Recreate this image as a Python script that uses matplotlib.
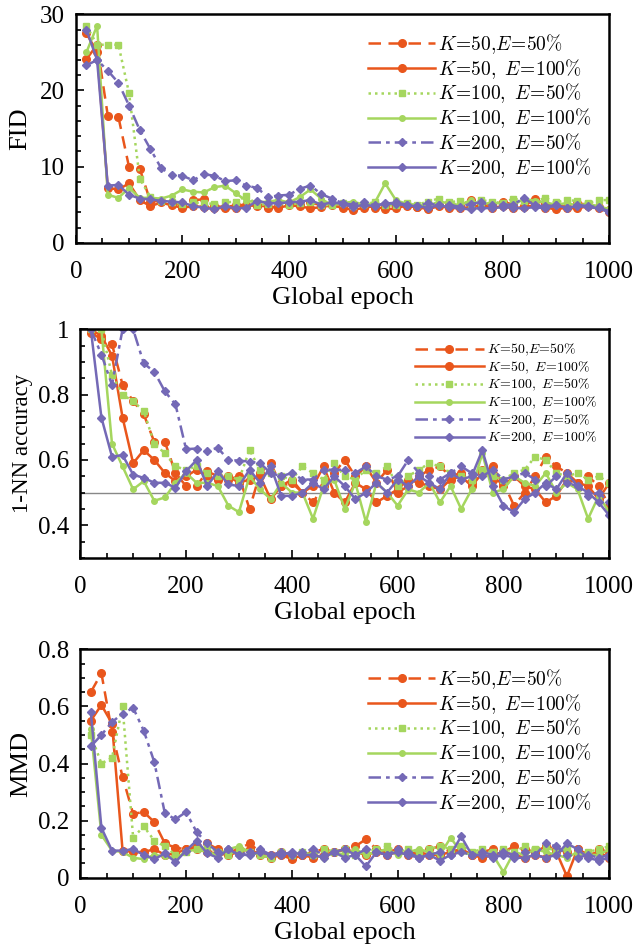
import matplotlib
matplotlib.use("Agg")
import matplotlib.pyplot as plt
from matplotlib.ticker import MultipleLocator, FuncFormatter

plt.rcParams['font.family'] = ['Liberation Serif', 'DejaVu Serif']
plt.rcParams['mathtext.fontset'] = 'cm'

# global epochs
epochs = [20, 40, 60, 80, 100, 120, 140, 160, 180, 200,
          220, 240, 260, 280, 300, 320, 340, 360, 380, 400,
          420, 440, 460, 480, 500, 520, 540, 560, 580, 600,
          620, 640, 660, 680, 700, 720, 740, 760, 780, 800,
          820, 840, 860, 880, 900, 920, 940, 960, 980, 1000]

labels = [r'$K\!=\!50{,}E\!=\!50\%$', r'$K\!=\!50,\ E\!=\!100\%$',
          r'$K\!=\!100,\ E\!=\!50\%$', r'$K\!=\!100,\ E\!=\!100\%$',
          r'$K\!=\!200,\ E\!=\!50\%$', r'$K\!=\!200,\ E\!=\!100\%$']

# ---- FID ----
fid_k50_e50 = [24.1, 26.0, 16.7, 16.5, 9.9, 9.7, 5.4, 5.5, 5.2, 5.0,
               5.6, 5.7, 4.8, 4.7, 4.9, 5.0, 4.8, 4.6, 4.8, 5.2,
               5.0, 5.3, 4.9, 5.1, 5.0, 4.7, 5.1, 4.6, 5.0, 4.9,
               4.8, 4.7, 4.5, 4.9, 5.2, 4.8, 5.6, 4.9, 5.1, 5.4,
               5.0, 4.8, 5.7, 5.1, 4.9, 4.7, 5.2, 5.0, 4.6, 4.1]
fid_k50_e100 = [27.5, 25.0, 7.2, 7.0, 7.8, 5.6, 4.8, 5.3, 4.9, 4.6,
                4.8, 4.7, 4.5, 4.6, 4.5, 4.8, 5.0, 4.7, 4.6, 4.9,
                4.8, 4.5, 4.7, 4.9, 4.6, 4.3, 4.6, 4.8, 4.4, 4.5,
                4.9, 4.7, 4.4, 4.8, 4.6, 4.5, 4.7, 4.9, 4.6, 4.8,
                4.5, 4.7, 4.9, 4.6, 4.4, 4.6, 4.5, 4.8, 4.7, 4.3]
fid_k100_e50 = [28.5, 26.0, 26.0, 26.0, 19.6, 8.4, 6.0, 5.5, 5.3, 5.1,
                5.3, 5.2, 5.1, 5.3, 5.4, 6.2, 4.9, 5.1, 5.3, 5.0,
                5.2, 5.4, 4.9, 5.0, 5.2, 4.8, 5.1, 5.3, 5.0, 4.9,
                5.2, 5.0, 5.4, 5.8, 5.3, 5.5, 5.1, 5.6, 5.4, 5.2,
                5.8, 5.5, 5.4, 5.9, 5.3, 5.6, 5.5, 5.2, 5.6, 5.6]
fid_k100_e100 = [25.0, 28.5, 6.3, 5.9, 7.2, 5.9, 5.9, 5.8, 6.2, 7.0,
                 6.7, 6.6, 7.3, 7.5, 6.5, 5.5, 5.3, 5.4, 5.6, 5.3,
                 6.0, 7.0, 5.8, 4.9, 5.2, 5.4, 5.0, 5.2, 7.8, 5.6,
                 5.1, 5.0, 4.8, 5.4, 5.2, 4.9, 5.6, 5.0, 5.3, 5.1,
                 4.9, 5.8, 5.5, 5.3, 5.0, 5.2, 4.9, 5.1, 4.8, 4.4]
fid_k200_e50 = [23.3, 24.0, 22.6, 21.0, 18.0, 14.8, 12.3, 9.8, 8.9, 8.8,
                8.2, 9.0, 8.8, 8.1, 8.2, 7.5, 7.2, 6.0, 6.2, 6.3,
                7.1, 7.5, 6.4, 5.8, 5.2, 5.0, 5.4, 4.9, 5.1, 5.3,
                5.0, 4.8, 5.2, 4.9, 5.0, 4.7, 5.1, 5.3, 4.9, 5.0,
                5.0, 5.9, 4.9, 4.8, 4.9, 4.6, 5.0, 4.8, 4.7, 4.1]
fid_k200_e100 = [28.0, 24.0, 7.5, 7.6, 6.3, 5.8, 5.7, 5.5, 5.4, 5.3,
                 4.8, 4.6, 4.4, 4.8, 4.5, 4.6, 5.5, 5.2, 5.2, 5.3,
                 5.4, 5.6, 5.0, 5.3, 5.1, 4.7, 5.0, 4.8, 5.2, 5.1,
                 4.9, 4.8, 4.6, 4.9, 4.7, 4.5, 4.4, 4.6, 4.5, 4.7,
                 4.6, 4.5, 4.7, 4.5, 4.9, 4.6, 4.8, 4.7, 4.5, 4.0]

# ---- 1-NN accuracy ----
nn_k50_e50 = [0.99, 0.97, 0.955, 0.83, 0.78, 0.74, 0.655, 0.655, 0.56, 0.52,
              0.52, 0.565, 0.55, 0.54, 0.55, 0.45, 0.56, 0.59, 0.52, 0.53,
              0.50, 0.47, 0.52, 0.56, 0.60, 0.55, 0.58, 0.53, 0.57, 0.50,
              0.52, 0.55, 0.57, 0.58, 0.55, 0.56, 0.53, 0.57, 0.54, 0.53,
              0.46, 0.50, 0.55, 0.61, 0.58, 0.56, 0.53, 0.55, 0.52, 0.46]
nn_k50_e100 = [1.0, 0.98, 0.92, 0.73, 0.59, 0.63, 0.60, 0.56, 0.535, 0.55,
               0.57, 0.55, 0.54, 0.55, 0.53, 0.54, 0.55, 0.48, 0.52, 0.54,
               0.50, 0.52, 0.58, 0.50, 0.47, 0.53, 0.51, 0.47, 0.49, 0.51,
               0.54, 0.53, 0.52, 0.51, 0.54, 0.55, 0.52, 0.56, 0.58, 0.52,
               0.55, 0.52, 0.51, 0.47, 0.49, 0.54, 0.53, 0.52, 0.48, 0.53]
nn_k100_e50 = [1.0, 1.0, 0.86, 0.80, 0.78, 0.75, 0.65, 0.62, 0.58, 0.57,
               0.58, 0.56, 0.55, 0.55, 0.54, 0.63, 0.57, 0.56, 0.55, 0.54,
               0.58, 0.56, 0.54, 0.59, 0.55, 0.54, 0.57, 0.56, 0.58, 0.52,
               0.55, 0.57, 0.59, 0.58, 0.56, 0.55, 0.54, 0.57, 0.55, 0.54,
               0.56, 0.57, 0.61, 0.60, 0.56, 0.55, 0.56, 0.54, 0.55, 0.53]
nn_k100_e100 = [1.0, 1.0, 0.65, 0.58, 0.51, 0.535, 0.475, 0.485, 0.53, 0.56,
                0.53, 0.53, 0.52, 0.46, 0.44, 0.55, 0.51, 0.48, 0.53, 0.50,
                0.50, 0.42, 0.52, 0.54, 0.45, 0.53, 0.41, 0.53, 0.50, 0.46,
                0.51, 0.50, 0.53, 0.47, 0.52, 0.45, 0.51, 0.62, 0.50, 0.51,
                0.55, 0.53, 0.52, 0.56, 0.50, 0.53, 0.51, 0.42, 0.49, 0.44]
nn_k200_e50 = [1.0, 0.923, 0.83, 1.0, 1.0, 0.896, 0.87, 0.81, 0.77, 0.633,
               0.635, 0.628, 0.637, 0.60, 0.598, 0.595, 0.59, 0.56, 0.55, 0.56,
               0.54, 0.54, 0.57, 0.57, 0.57, 0.56, 0.58, 0.55, 0.54, 0.55,
               0.60, 0.56, 0.55, 0.54, 0.56, 0.58, 0.56, 0.55, 0.57, 0.54,
               0.55, 0.56, 0.54, 0.52, 0.55, 0.53, 0.52, 0.49, 0.50, 0.47]
nn_k200_e100 = [1.0, 0.73, 0.61, 0.615, 0.555, 0.545, 0.53, 0.53, 0.515, 0.565,
                0.60, 0.52, 0.565, 0.525, 0.52, 0.57, 0.53, 0.58, 0.49, 0.49,
                0.50, 0.53, 0.51, 0.55, 0.52, 0.48, 0.50, 0.53, 0.50, 0.54,
                0.52, 0.55, 0.53, 0.51, 0.56, 0.54, 0.55, 0.63, 0.52, 0.46,
                0.44, 0.48, 0.50, 0.53, 0.51, 0.56, 0.52, 0.50, 0.47, 0.43]

# ---- MMD ----
mmd_k50_e50 = [0.65, 0.716, 0.51, 0.353, 0.224, 0.23, 0.195, 0.12, 0.105, 0.10,
               0.11, 0.12, 0.10, 0.09, 0.10, 0.12, 0.09, 0.08, 0.09, 0.07,
               0.08, 0.09, 0.10, 0.09, 0.10, 0.11, 0.135, 0.10, 0.09, 0.10,
               0.09, 0.08, 0.10, 0.11, 0.09, 0.10, 0.08, 0.09, 0.10, 0.09,
               0.11, 0.10, 0.09, 0.11, 0.10, 0.09, 0.10, 0.08, 0.10, 0.09]
mmd_k50_e100 = [0.55, 0.605, 0.54, 0.095, 0.09, 0.09, 0.10, 0.08, 0.085, 0.10,
                0.10, 0.09, 0.085, 0.08, 0.09, 0.10, 0.08, 0.07, 0.08, 0.065,
                0.08, 0.07, 0.08, 0.09, 0.10, 0.09, 0.08, 0.09, 0.08, 0.09,
                0.08, 0.09, 0.08, 0.08, 0.09, 0.10, 0.08, 0.07, 0.08, 0.09,
                0.08, 0.07, 0.08, 0.07, 0.09, 0.005, 0.10, 0.08, 0.09, 0.07]
mmd_k100_e50 = [0.50, 0.40, 0.42, 0.60, 0.14, 0.18, 0.13, 0.11, 0.08, 0.09,
                0.10, 0.11, 0.09, 0.08, 0.10, 0.09, 0.08, 0.07, 0.09, 0.08,
                0.09, 0.08, 0.10, 0.09, 0.10, 0.08, 0.09, 0.10, 0.11, 0.09,
                0.10, 0.09, 0.10, 0.11, 0.10, 0.11, 0.09, 0.10, 0.09, 0.10,
                0.09, 0.11, 0.10, 0.11, 0.09, 0.10, 0.08, 0.09, 0.10, 0.11]
mmd_k100_e100 = [0.52, 0.15, 0.095, 0.09, 0.07, 0.065, 0.08, 0.075, 0.07, 0.09,
                 0.10, 0.09, 0.08, 0.10, 0.11, 0.09, 0.08, 0.07, 0.09, 0.08,
                 0.09, 0.08, 0.07, 0.09, 0.08, 0.10, 0.08, 0.09, 0.10, 0.08,
                 0.09, 0.10, 0.09, 0.08, 0.14, 0.09, 0.08, 0.09, 0.08, 0.02,
                 0.09, 0.08, 0.10, 0.09, 0.08, 0.07, 0.09, 0.08, 0.08, 0.10]
mmd_k200_e50 = [0.46, 0.50, 0.545, 0.575, 0.595, 0.515, 0.405, 0.225, 0.205, 0.23,
                0.16, 0.12, 0.09, 0.10, 0.08, 0.09, 0.10, 0.08, 0.09, 0.08,
                0.09, 0.10, 0.08, 0.09, 0.07, 0.08, 0.10, 0.09, 0.08, 0.10,
                0.09, 0.07, 0.08, 0.09, 0.08, 0.09, 0.08, 0.09, 0.08, 0.09,
                0.08, 0.09, 0.08, 0.12, 0.11, 0.08, 0.07, 0.08, 0.07, 0.08]
mmd_k200_e100 = [0.58, 0.175, 0.095, 0.095, 0.10, 0.08, 0.065, 0.085, 0.055, 0.095,
                 0.13, 0.085, 0.07, 0.10, 0.08, 0.08, 0.09, 0.08, 0.08, 0.09,
                 0.08, 0.08, 0.07, 0.09, 0.10, 0.08, 0.04, 0.09, 0.08, 0.09,
                 0.08, 0.07, 0.08, 0.06, 0.08, 0.145, 0.08, 0.08, 0.07, 0.08,
                 0.07, 0.07, 0.08, 0.07, 0.08, 0.12, 0.10, 0.07, 0.06, 0.07]

orange = '#E9561C'
green = '#A5D65E'
purple = '#7469B6'
styles = [
    dict(color=orange, linestyle=(0, (5, 3)), marker='o', markersize=5.5),
    dict(color=orange, linestyle='-', marker='o', markersize=5.5),
    dict(color=green, linestyle=(0, (1, 1.6)), marker='s', markersize=4.5),
    dict(color=green, linestyle='-', marker='o', markersize=4),
    dict(color=purple, linestyle=(0, (5, 2, 1.5, 2)), marker='D', markersize=4.5),
    dict(color=purple, linestyle='-', marker='D', markersize=4.5),
]

fig = plt.figure(figsize=(6.42, 9.52), dpi=100)
ax1 = fig.add_axes([0.118, 0.745, 0.831, 0.240])
ax2 = fig.add_axes([0.125, 0.414, 0.824, 0.240])
ax3 = fig.add_axes([0.125, 0.078, 0.824, 0.240])

panels = [
    (ax1, [fid_k50_e50, fid_k50_e100, fid_k100_e50, fid_k100_e100, fid_k200_e50, fid_k200_e100],
     'FID', (0, 30), 10, 2, 14, 19),
    (ax2, [nn_k50_e50, nn_k50_e100, nn_k100_e50, nn_k100_e100, nn_k200_e50, nn_k200_e100],
     '1-NN accuracy', (0.3, 1.0), 0.2, 0.05, 10, 16.5),
    (ax3, [mmd_k50_e50, mmd_k50_e100, mmd_k100_e50, mmd_k100_e100, mmd_k200_e50, mmd_k200_e100],
     'MMD', (0, 0.8), 0.2, 0.05, 14, 19),
]

for ax, series, ylab, ylim, major, minor, lfs, yfs in panels:
    if ylab == '1-NN accuracy':
        ax.axhline(0.5, color='#888888', lw=1.0, zorder=1)
    for vals, lab, st in zip(series, labels, styles):
        ax.plot(epochs, vals, label=lab, lw=1.8, **st)
    ax.set_xlim(0, 1000)
    ax.set_ylim(*ylim)
    ax.xaxis.set_major_locator(MultipleLocator(200))
    ax.xaxis.set_minor_locator(MultipleLocator(50))
    ax.yaxis.set_major_locator(MultipleLocator(major))
    ax.yaxis.set_minor_locator(MultipleLocator(minor))
    ax.yaxis.set_major_formatter(FuncFormatter(lambda v, p: '%g' % round(v, 3)))
    ax.tick_params(which='both', direction='in', top=False, right=False,
                   labelsize=18, width=1.2)
    ax.tick_params(which='major', length=6)
    ax.tick_params(which='minor', length=3.5)
    ax.tick_params(axis='x', which='major', pad=13)
    ax.tick_params(axis='y', which='major', pad=8)
    for sp in ax.spines.values():
        sp.set_linewidth(1.8)
    ax.set_xlabel('Global epoch', fontsize=19, labelpad=3)
    ax.set_ylabel(ylab, fontsize=yfs)
    hl = 3.4 if lfs > 12 else 5.0
    ax.legend(loc='upper right', frameon=False, fontsize=lfs, handlelength=hl,
              labelspacing=0.05 if lfs > 12 else 0.1, handletextpad=0.2,
              borderaxespad=0.5)

ax1.yaxis.set_label_coords(-0.084, 0.5)
ax2.yaxis.set_label_coords(-0.089, 0.5)
ax3.yaxis.set_label_coords(-0.09, 0.5)

fig.savefig('out.png', dpi=100)
